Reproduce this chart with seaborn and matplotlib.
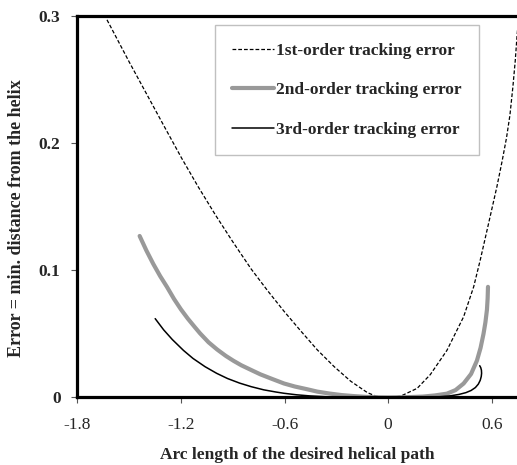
import numpy as np
import pandas as pd
import seaborn as sns
import matplotlib
matplotlib.use("Agg")
import matplotlib.pyplot as plt

# values
first_x = [-1.628, -1.50, -1.40, -1.30, -1.195, -1.10, -1.00, -0.90, -0.793, -0.697,
           -0.603, -0.506, -0.410, -0.313, -0.217, -0.120, -0.070, 0.0, 0.072, 0.168,
           0.244, 0.340, 0.437, 0.495, 0.533, 0.58, 0.63, 0.66, 0.685, 0.705, 0.722,
           0.736, 0.746, 0.756]
first_y = [0.297, 0.264, 0.239, 0.214, 0.188, 0.1657, 0.1435, 0.1225, 0.101, 0.0838,
           0.0678, 0.0523, 0.0374, 0.0243, 0.0128, 0.0038, 0.001, 0.0, 0.001, 0.0072,
           0.018, 0.037, 0.0635, 0.087, 0.108, 0.136, 0.166, 0.186, 0.204, 0.222, 0.244,
           0.265, 0.284, 0.30]

second_x = [-1.439, -1.40, -1.36, -1.32, -1.281, -1.24, -1.20, -1.16, -1.12, -1.089,
            -1.04, -0.99, -0.94, -0.895, -0.85, -0.793, -0.74, -0.68, -0.603, -0.54,
            -0.47, -0.41, -0.34, -0.27, -0.20, -0.12, -0.05, 0.0, 0.10, 0.20, 0.27,
            0.34, 0.39, 0.437, 0.48, 0.514, 0.535, 0.552, 0.563, 0.572, 0.576, 0.578]
second_y = [0.127, 0.1156, 0.105, 0.0954, 0.087, 0.0775, 0.0693, 0.062, 0.0554, 0.0504,
            0.0434, 0.0377, 0.0327, 0.0288, 0.0253, 0.0216, 0.0182, 0.015, 0.011, 0.0086,
            0.0065, 0.0046, 0.0031, 0.0019, 0.0011, 0.0004, 0.0001, 0.0, 0.0002, 0.0007, 0.0016,
            0.003, 0.0058, 0.011, 0.0185, 0.029, 0.039, 0.050, 0.059, 0.069, 0.078, 0.087]

third_x = [-1.349, -1.30, -1.25, -1.185, -1.13, -1.06, -0.993, -0.93, -0.86, -0.793,
           -0.72, -0.65, -0.603, -0.53, -0.45, -0.36, -0.26, -0.15, 0.0, 0.10, 0.20,
           0.30, 0.36, 0.41, 0.45, 0.48, 0.505, 0.522, 0.533, 0.539, 0.541, 0.540,
           0.536, 0.530]
third_y = [0.062, 0.0532, 0.0456, 0.037, 0.0307, 0.0242, 0.019, 0.0149, 0.0113, 0.0085,
           0.006, 0.0043, 0.0033, 0.0021, 0.0012, 0.0006, 0.0002, 0.00005, 0.0, 0.0, 0.0001,
           0.0006, 0.0013, 0.0024, 0.0038, 0.0055, 0.0078, 0.0105, 0.0135, 0.0165, 0.019, 0.0215,
           0.0235, 0.025]

labels = ["1st-order tracking error", "2nd-order tracking error", "3rd-order tracking error"]
x_ticks = [-1.8, -1.2, -0.6, 0, 0.6]
x_tick_labels = ["-1.8", "-1.2", "-0.6", "0", "0.6"]
y_ticks = [0, 0.1, 0.2, 0.3]
y_tick_labels = ["0", "0.1", "0.2", "0.3"]

sns.set_style("white")
plt.rcParams["font.family"] = ["Liberation Serif", "DejaVu Serif"]
plt.rcParams["font.weight"] = "bold"

fig = plt.figure(figsize=(5.17, 4.65), dpi=100)
ax = fig.add_axes([0.1495, 0.1452, 0.8505, 0.8204])

sns.lineplot(x=first_x, y=first_y, ax=ax, sort=False, estimator=None, color="black",
             linewidth=0.9, linestyle=(0, (3, 1.6)), label=labels[0])
sns.lineplot(x=second_x, y=second_y, ax=ax, sort=False, estimator=None, color="#999999",
             linewidth=3.0, label=labels[1])
sns.lineplot(x=third_x, y=third_y, ax=ax, sort=False, estimator=None, color="black",
             linewidth=1.1, label=labels[2])

ax.set_xlim(-1.8, 0.746)
ax.set_ylim(0, 0.3)
ax.set_xticks(x_ticks)
ax.set_xticklabels(x_tick_labels, fontweight="normal", fontsize=12.5)
ax.set_yticks(y_ticks)
ax.set_yticklabels(y_tick_labels, fontweight="bold", fontsize=12.5)
ax.tick_params(axis="both", direction="out", length=4, width=0.8, color="#555555",
               pad=8, bottom=True, left=True)
ax.tick_params(axis="x", pad=10)

for side in ["left", "bottom", "top"]:
    ax.spines[side].set_linewidth(2.3)
    ax.spines[side].set_color("black")
ax.spines["right"].set_visible(False)

ax.set_xlabel("Arc length of the desired helical path", fontsize=12.5,
              fontweight="bold", labelpad=10)
ax.set_ylabel("Error = min. distance from the helix", fontsize=13,
              fontweight="bold", labelpad=10)
ax.yaxis.set_label_coords(-0.118, 0.47)

leg = ax.legend(loc="center", bbox_to_anchor=(0.613, 0.805), fontsize=12.5,
                frameon=True, fancybox=False, shadow=False, framealpha=1,
                edgecolor="#c0c0c0", handlelength=2.4, handletextpad=0.1,
                labelspacing=1.35, borderpad=1.0)
leg.get_frame().set_linewidth(1.0)
for t in leg.get_texts():
    t.set_fontweight("bold")

fig.savefig("out.png", dpi=100)
